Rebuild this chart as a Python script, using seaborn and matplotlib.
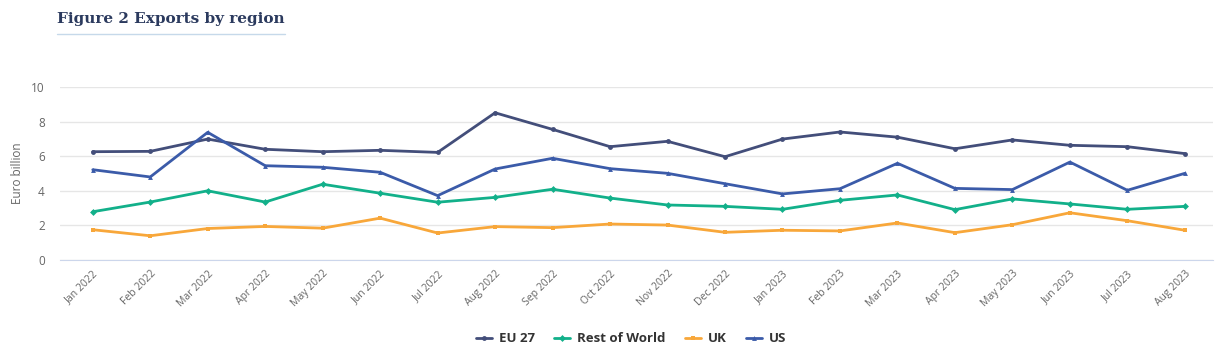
import numpy as np
import pandas as pd
import matplotlib
matplotlib.use("Agg")
import matplotlib.pyplot as plt
import seaborn as sns

# data (euro billion)
months = ["Jan 2022", "Feb 2022", "Mar 2022", "Apr 2022", "May 2022", "Jun 2022",
          "Jul 2022", "Aug 2022", "Sep 2022", "Oct 2022", "Nov 2022", "Dec 2022",
          "Jan 2023", "Feb 2023", "Mar 2023", "Apr 2023", "May 2023", "Jun 2023",
          "Jul 2023", "Aug 2023"]
eu27 = [6.26, 6.28, 6.99, 6.40, 6.26, 6.34, 6.22, 8.51, 7.55, 6.55,
        6.86, 5.97, 6.99, 7.40, 7.10, 6.43, 6.94, 6.63, 6.55, 6.15]
rest_of_world = [2.79, 3.35, 4.00, 3.35, 4.38, 3.86, 3.34, 3.62, 4.09, 3.58,
                 3.18, 3.10, 2.93, 3.45, 3.76, 2.91, 3.53, 3.24, 2.93, 3.10]
uk = [1.75, 1.40, 1.82, 1.94, 1.84, 2.42, 1.56, 1.93, 1.87, 2.08,
      2.02, 1.60, 1.72, 1.68, 2.14, 1.58, 2.04, 2.73, 2.27, 1.72]
us = [5.22, 4.80, 7.38, 5.45, 5.36, 5.07, 3.72, 5.26, 5.88, 5.28,
      5.01, 4.41, 3.82, 4.12, 5.59, 4.14, 4.07, 5.66, 4.03, 5.01]
regions = ["EU 27", "Rest of World", "UK", "US"]

df = pd.DataFrame({"month": months, "EU 27": eu27, "Rest of World": rest_of_world,
                   "UK": uk, "US": us})
df["pos"] = np.arange(len(months))
long_df = df.melt(id_vars=["month", "pos"], value_vars=regions,
                  var_name="region", value_name="value")

palette = {"EU 27": "#434e7a", "Rest of World": "#12b08a", "UK": "#f8a73a", "US": "#3b5ba9"}
markers = {"EU 27": "o", "Rest of World": "D", "UK": "s", "US": "^"}

sns.set_style("white")
plt.rcParams["font.family"] = ["Open Sans", "DejaVu Sans"]

fig = plt.figure(figsize=(12.29, 3.59), dpi=100)
ax = fig.add_axes([60 / 1229, 99 / 359, (1213 - 60) / 1229, (260 - 87) / 359])

sns.lineplot(data=long_df, x="pos", y="value", hue="region", style="region",
             palette=palette, markers=markers, dashes=False, markersize=3.5,
             markeredgewidth=0, linewidth=2, ax=ax, legend=True)

ax.set_xlim(-0.57, 19.49)
ax.set_ylim(0, 10)
ax.set_yticks([0, 2, 4, 6, 8, 10])
ax.set_xticks(df["pos"])
ax.set_xticklabels(months, rotation=45, ha="right", rotation_mode="anchor",
                   fontsize=7.5, color="#666666")
ax.tick_params(axis="y", labelsize=8.5, labelcolor="#666666", length=0, pad=11)
ax.tick_params(axis="x", length=0, pad=6)
ax.grid(axis="y", color="#e6e6e6", linewidth=1)
ax.set_axisbelow(True)
for side in ["top", "right", "left"]:
    ax.spines[side].set_visible(False)
ax.spines["bottom"].set_color("#ccd6eb")
ax.set_xlabel("")
ax.set_ylabel("Euro billion", fontsize=8.5, color="#666666", labelpad=5)

# legend below the chart
handles, labels = ax.get_legend_handles_labels()
ax.get_legend().remove()
leg = fig.legend(handles, labels, loc="center", bbox_to_anchor=(631 / 1229, 1 - 339 / 359),
                 ncol=4, frameon=False, handlelength=1.2, columnspacing=1.5,
                 handletextpad=0.5, prop={"size": 9.5, "weight": "bold"})
for t in leg.get_texts():
    t.set_color("#333333")

# title with underline
fig.text(57 / 1229, 1 - 19 / 359, "Figure 2 Exports by region", fontsize=11,
         fontweight="bold", family="DejaVu Serif", color="#2b3a5e", va="center")
fig.add_artist(plt.Line2D([57 / 1229, 285 / 1229], [1 - 34 / 359, 1 - 34 / 359],
                          color="#c6d9ea", linewidth=1, transform=fig.transFigure))

fig.savefig("out.png", dpi=100)
